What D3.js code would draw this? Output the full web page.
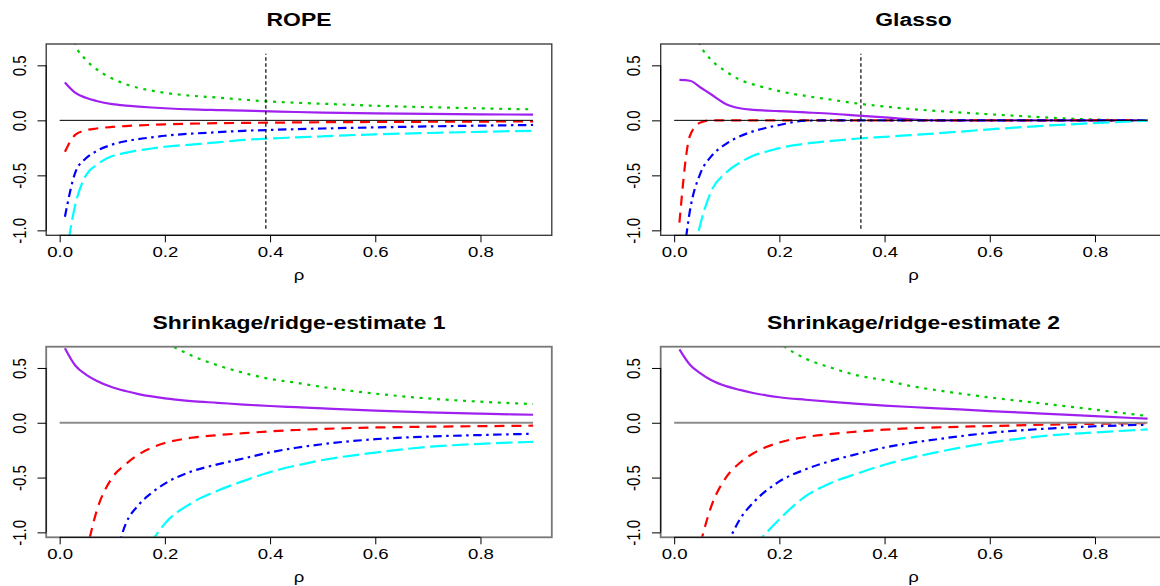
<!DOCTYPE html>
<html>
<head>
<meta charset="utf-8">
<script src="https://cdn.jsdelivr.net/npm/d3@7"></script>
<style>
  html, body { margin: 0; padding: 0; background: #fff; overflow: hidden; }
  svg { display: block; }
</style>
</head>
<body>
<svg id="fig" width="1160" height="586"></svg>
<script>
// Penalty grid
const rho = [0.01, 0.03, 0.05, 0.07, 0.1, 0.125, 0.15, 0.175, 0.2, 0.25, 0.3, 0.35, 0.4, 0.45, 0.5, 0.6, 0.7, 0.8, 0.9];

// ROPE estimates
const ropeGreen  = [1.1, 0.69, 0.55, 0.465, 0.38, 0.33, 0.295, 0.27, 0.25, 0.224, 0.207, 0.188, 0.171, 0.16, 0.151, 0.133, 0.12, 0.109, 0.1];
const ropePurple = [0.345, 0.25, 0.205, 0.176, 0.147, 0.134, 0.125, 0.117, 0.11, 0.099, 0.093, 0.088, 0.082, 0.076, 0.071, 0.064, 0.059, 0.055, 0.052];
const ropeRed    = [-0.285, -0.13, -0.09, -0.074, -0.06, -0.052, -0.046, -0.041, -0.036, -0.03, -0.026, -0.023, -0.021, -0.019, -0.017, -0.015, -0.013, -0.011, -0.01];
const ropeBlue   = [-0.876, -0.47, -0.345, -0.28, -0.22, -0.19, -0.17, -0.155, -0.14, -0.121, -0.108, -0.095, -0.087, -0.08, -0.074, -0.064, -0.055, -0.048, -0.042];
const ropeCyan   = [-1.3, -0.76, -0.5, -0.406, -0.325, -0.296, -0.272, -0.256, -0.24, -0.22, -0.2, -0.178, -0.165, -0.155, -0.145, -0.127, -0.115, -0.104, -0.095];

// Glasso estimates
const glassoGreen  = [1.4, 0.95, 0.68, 0.552, 0.44, 0.368, 0.327, 0.295, 0.265, 0.222, 0.187, 0.152, 0.126, 0.103, 0.085, 0.055, 0.028, 0.007, 0];
const glassoPurple = [0.367, 0.36, 0.299, 0.237, 0.145, 0.11, 0.096, 0.089, 0.083, 0.072, 0.06, 0.043, 0.027, 0.01, 0, 0, 0, 0, 0];
const glassoRed    = [-0.93, -0.14, -0.02, 0, 0, 0, 0, 0, 0, 0, 0, 0, 0, 0, 0, 0, 0, 0, 0];
const glassoBlue   = [-1.6, -0.82, -0.48, -0.33, -0.21, -0.145, -0.1, -0.068, -0.042, -0.003, 0, 0, 0, 0, 0, 0, 0, 0, 0];
const glassoCyan   = [null, -1.4, -0.94, -0.65, -0.47, -0.385, -0.322, -0.285, -0.252, -0.212, -0.187, -0.165, -0.15, -0.134, -0.118, -0.082, -0.05, -0.025, -0.003];

// Shrinkage/ridge estimate 1
const ridge1Green  = [null, null, null, null, null, 1.24, 1.03, 0.87, 0.75, 0.615, 0.525, 0.455, 0.4, 0.365, 0.326, 0.266, 0.222, 0.192, 0.171];
const ridge1Purple = [0.68, 0.52, 0.44, 0.384, 0.324, 0.29, 0.262, 0.24, 0.222, 0.198, 0.182, 0.166, 0.153, 0.142, 0.131, 0.11, 0.094, 0.083, 0.073];
const ridge1Red    = [null, null, -1.2, -0.81, -0.5, -0.38, -0.29, -0.228, -0.185, -0.137, -0.113, -0.095, -0.078, -0.066, -0.056, -0.043, -0.036, -0.031, -0.027];
const ridge1Blue   = [null, null, null, null, -1.35, -0.93, -0.75, -0.64, -0.555, -0.445, -0.38, -0.325, -0.27, -0.228, -0.195, -0.15, -0.126, -0.112, -0.1];
const ridge1Cyan   = [null, null, null, null, null, null, -1.3, -1.085, -0.92, -0.735, -0.62, -0.53, -0.45, -0.39, -0.34, -0.272, -0.22, -0.192, -0.174];

// Shrinkage/ridge estimate 2
const ridge2Green  = [null, null, null, null, null, null, 0.98, 0.84, 0.73, 0.585, 0.5, 0.43, 0.388, 0.335, 0.297, 0.231, 0.176, 0.12, 0.061];
const ridge2Purple = [0.67, 0.53, 0.45, 0.39, 0.332, 0.3, 0.272, 0.25, 0.233, 0.21, 0.19, 0.172, 0.157, 0.144, 0.132, 0.107, 0.084, 0.06, 0.037];
const ridge2Red    = [null, null, -1.1, -0.77, -0.49, -0.365, -0.28, -0.222, -0.18, -0.13, -0.101, -0.08, -0.063, -0.05, -0.042, -0.03, -0.018, -0.01, -0.003];
const ridge2Blue   = [null, null, null, null, -1.12, -0.88, -0.73, -0.62, -0.535, -0.425, -0.345, -0.283, -0.226, -0.184, -0.15, -0.092, -0.056, -0.032, -0.018];
const ridge2Cyan   = [null, null, null, null, null, null, -1.14, -1.005, -0.88, -0.67, -0.545, -0.46, -0.383, -0.32, -0.268, -0.182, -0.122, -0.088, -0.061];

// Selected penalties (vertical reference lines)
const ropeCut = 0.392;
const glassoCut = 0.355;
const cutSpan = [-0.985, 0.605];

// Axis ticks and labels
const xTicks = [0, 0.2, 0.4, 0.6, 0.8];
const xTickLabels = ["0.0", "0.2", "0.4", "0.6", "0.8"];
const yTicks = [-1, -0.5, 0, 0.5];
const yTickLabels = ["-1.0", "-0.5", "0.0", "0.5"];
const panelTitles = ["ROPE", "Glasso", "Shrinkage/ridge-estimate 1", "Shrinkage/ridge-estimate 2"];
const xLabel = "\u03C1";

// ---- drawing ----
const FONT = '"Liberation Sans", Arial, Helvetica, sans-serif';
const SX = 1.24;              // horizontal stretch of the whole figure
const xDomain = [-0.0256, 0.9356];
const yDomain = [-1.045, 0.694];
const plotW = 505.6;

// line styles: green dotted, purple solid, red dashed, blue dot-dash, cyan long-dash
const lineStyles = [
  { color: "#00CD00", dash: "3,5.7" },
  { color: "#A020F0", dash: null },
  { color: "#FF0000", dash: "10,7" },
  { color: "#0000FF", dash: "8.5,4.5,2.5,4.5" },
  { color: "#00FFFF", dash: "16.5,5.5" }
];

const layout = [
  { left: 46.2,  top: 44,    h: 191.3, title: panelTitles[0],
    series: [ropeGreen, ropePurple, ropeRed, ropeBlue, ropeCyan], cut: ropeCut,
    zero: { color: "#000", width: 1 }, box: { color: "#333", width: 1.3 } },
  { left: 660.7, top: 44,    h: 191.3, title: panelTitles[1],
    series: [glassoGreen, glassoPurple, glassoRed, glassoBlue, glassoCyan], cut: glassoCut,
    zero: { color: "#000", width: 1 }, box: { color: "#333", width: 1.3 } },
  { left: 46.2,  top: 346.7, h: 190.6, title: panelTitles[2],
    series: [ridge1Green, ridge1Purple, ridge1Red, ridge1Blue, ridge1Cyan], cut: null,
    zero: { color: "#8c8c8c", width: 2 }, box: { color: "#777", width: 1.8 } },
  { left: 660.7, top: 346.7, h: 190.6, title: panelTitles[3],
    series: [ridge2Green, ridge2Purple, ridge2Red, ridge2Blue, ridge2Cyan], cut: null,
    zero: { color: "#8c8c8c", width: 2 }, box: { color: "#777", width: 1.8 } }
];

const svg = d3.select("#fig");
const defs = svg.append("defs");

layout.forEach((p, k) => {
  const x = d3.scaleLinear().domain(xDomain).range([p.left, p.left + plotW]);
  const y = d3.scaleLinear().domain(yDomain).range([p.top + p.h, p.top]);
  const g = svg.append("g");

  const clipId = "clip" + k;
  defs.append("clipPath").attr("id", clipId)
    .append("rect").attr("x", p.left).attr("y", p.top).attr("width", plotW).attr("height", p.h);

  const plot = g.append("g").attr("clip-path", `url(#${clipId})`);

  const line = d3.line()
    .defined(d => d[1] != null)
    .x(d => x(d[0]))
    .y(d => y(d[1]))
    .curve(d3.curveMonotoneX);

  p.series.forEach((vals, i) => {
    const st = lineStyles[i];
    plot.append("path")
      .datum(rho.map((r, j) => [r, vals[j]]))
      .attr("d", line)
      .attr("fill", "none")
      .attr("stroke", st.color)
      .attr("stroke-width", 2.2)
      .attr("stroke-linejoin", "round")
      .attr("stroke-dasharray", st.dash);
  });

  // zero reference segment over the rho range
  plot.append("line")
    .attr("x1", x(0)).attr("x2", x(0.9))
    .attr("y1", y(0)).attr("y2", y(0))
    .attr("stroke", p.zero.color).attr("stroke-width", p.zero.width);

  if (p.cut != null) {
    plot.append("line")
      .attr("x1", x(p.cut)).attr("x2", x(p.cut))
      .attr("y1", y(cutSpan[0])).attr("y2", y(cutSpan[1]))
      .attr("stroke", "#000").attr("stroke-width", 1.2)
      .attr("stroke-dasharray", "3.5,2.5");
  }

  // plot box
  g.append("rect")
    .attr("x", p.left).attr("y", p.top).attr("width", plotW).attr("height", p.h)
    .attr("fill", "none").attr("stroke", p.box.color).attr("stroke-width", p.box.width);

  // x axis
  const xAxis = g.append("g").attr("transform", `translate(0,${p.top + p.h})`)
    .call(d3.axisBottom(x).tickValues(xTicks).tickSize(7)
      .tickFormat((d, i) => xTickLabels[i]));
  xAxis.select(".domain").remove();
  xAxis.append("line")
    .attr("x1", x(xTicks[0])).attr("x2", x(xTicks[xTicks.length - 1]))
    .attr("stroke", "#000").attr("stroke-width", 1);
  xAxis.selectAll(".tick line").attr("stroke", "#000").attr("stroke-width", 1);
  xAxis.selectAll(".tick text")
    .attr("y", 22).attr("dy", null)
    .attr("transform", `scale(${SX},1)`)
    .attr("fill", "#000")
    .style("font-family", FONT).style("font-size", "15px");

  // y axis
  const yAxis = g.append("g").attr("transform", `translate(${p.left},0)`)
    .call(d3.axisLeft(y).tickValues(yTicks).tickSize(8.7)
      .tickFormat((d, i) => yTickLabels[i]));
  yAxis.select(".domain").remove();
  yAxis.append("line")
    .attr("y1", y(yTicks[0])).attr("y2", y(yTicks[yTicks.length - 1]))
    .attr("stroke", "#000").attr("stroke-width", 1);
  yAxis.selectAll(".tick line").attr("stroke", "#000").attr("stroke-width", 1);
  yAxis.selectAll(".tick text")
    .attr("x", null).attr("dy", null)
    .attr("text-anchor", "middle")
    .attr("transform", `translate(-20.5,0) scale(${SX},1) rotate(-90)`)
    .attr("fill", "#000")
    .style("font-family", FONT).style("font-size", "15px");

  const cx = p.left + plotW / 2;

  // panel title
  g.append("text")
    .attr("transform", `translate(${cx},${p.top - 18}) scale(${SX},1)`)
    .attr("text-anchor", "middle")
    .style("font-family", FONT).style("font-size", "18.5px").style("font-weight", "bold")
    .text(p.title);

  // x label
  g.append("text")
    .attr("transform", `translate(${cx},${p.top + p.h + 44.2}) scale(${SX},1)`)
    .attr("text-anchor", "middle")
    .style("font-family", FONT).style("font-size", "15px")
    .text(xLabel);
});
</script>
</body>
</html>
